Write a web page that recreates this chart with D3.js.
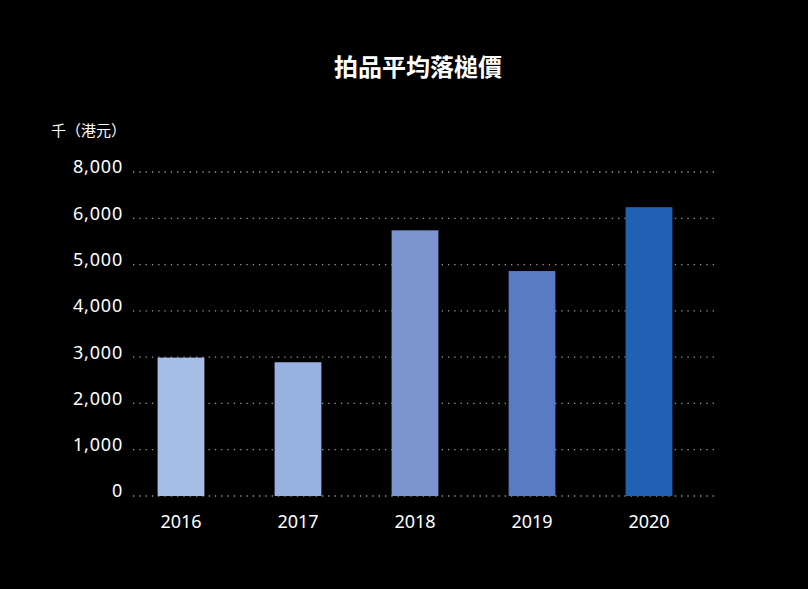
<!DOCTYPE html>
<html><head><meta charset="utf-8">
<script src="https://cdn.jsdelivr.net/npm/d3@7"></script>
<style>html,body{margin:0;padding:0;background:#000;}svg{display:block;}</style>
</head><body>
<script>
const years = ["2016","2017","2018","2019","2020"];
const values = [2990, 2890, 5740, 4860, 6240];
const colors = ["#a6bee6","#97b2e1","#7b94cf","#5a7bc3","#2161b3"];
const tickValues = [0,1000,2000,3000,4000,5000,6000,7000];
const tickLabels = ["0","1,000","2,000","3,000","4,000","5,000","6,000","8,000"];
const title = "拍品平均落槌價";
const unit = "千（港元）";

const W = 808, H = 589;
const svg = d3.select("body").append("svg").attr("width",W).attr("height",H).style("background","#000");
const cjk = "'Noto Sans CJK TC','Noto Sans',sans-serif";
const latin = "'Noto Sans','Open Sans',sans-serif";

const x = d3.scaleBand().domain(years).range([122.5,707.5]).paddingInner(0.6).paddingOuter(0.3);
const y = d3.scaleLinear().domain([0,7000]).range([496,172]);

svg.append("text").attr("x",418).attr("y",76).attr("text-anchor","middle")
  .attr("fill","#fff").attr("font-family",cjk).attr("font-size",24).attr("font-weight","bold").text(title);
svg.append("text").attr("x",51).attr("y",136).attr("fill","#fff")
  .attr("font-family",cjk).attr("font-size",15).text(unit);

const yAxis = d3.axisLeft(y).tickValues(tickValues).tickFormat((d,i)=>tickLabels[i]).tickSize(0).tickPadding(0);
const ga = svg.append("g").attr("transform","translate(123,0)").call(yAxis);
ga.select(".domain").remove();
ga.selectAll("text").attr("fill","#fff").attr("font-family",latin).attr("font-size",18)
  .attr("letter-spacing","0.8px").attr("dy","0.05em");

svg.append("g").selectAll("line").data(tickValues).join("line")
  .attr("x1",133).attr("x2",718).attr("y1",d=>y(d)).attr("y2",d=>y(d))
  .attr("stroke","#9a9a9a").attr("stroke-width",1.3).attr("stroke-dasharray","1.3,5");

svg.append("g").selectAll("rect").data(years).join("rect")
  .attr("x",d=>x(d)).attr("width",x.bandwidth())
  .attr("y",(d,i)=>y(values[i])).attr("height",(d,i)=>y(0)-y(values[i]))
  .attr("fill",(d,i)=>colors[i]);

const xAxis = d3.axisBottom(x).tickSize(0).tickPadding(0);
const gx = svg.append("g").attr("transform","translate(0,522)").call(xAxis);
gx.select(".domain").remove();
gx.selectAll("text").attr("fill","#fff").attr("font-family",latin).attr("font-size",18).attr("dy","0.35em");
</script>
</body></html>
